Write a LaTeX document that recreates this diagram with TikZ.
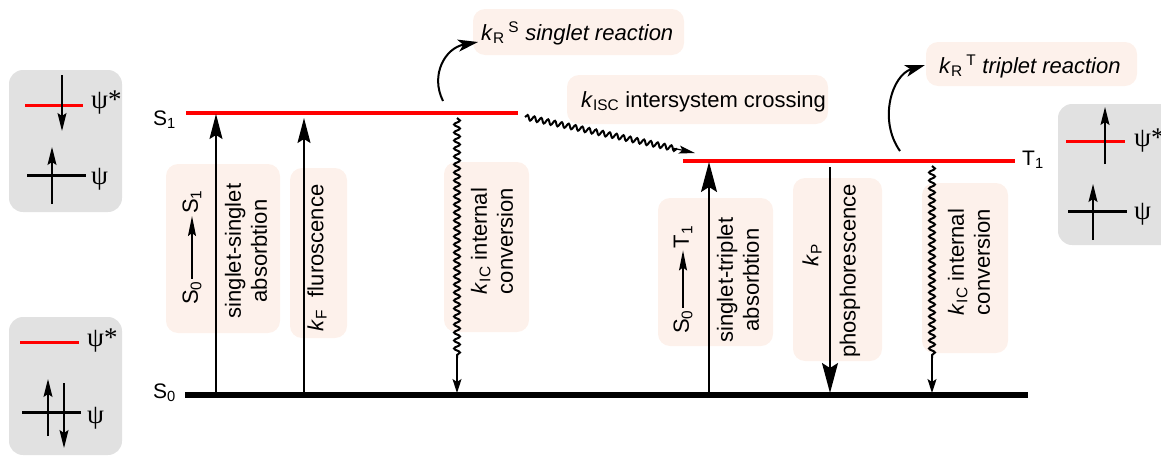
\documentclass[tikz,border=0pt]{standalone}
\usepackage{fontspec}
\setmainfont{Liberation Sans}
\newfontfamily\psifont{Liberation Serif}
\usetikzlibrary{arrows.meta,decorations.pathmorphing}
\definecolor{pinkc}{HTML}{FDF1EB}
\definecolor{grayc}{HTML}{E1E1E1}
\definecolor{redc}{HTML}{FF0000}
\begin{document}
\begin{tikzpicture}[x=1pt,y=-1pt,
  lbl/.style={font=\fontsize{22}{26}\selectfont, inner sep=0pt},
  levlbl/.style={font=\fontsize{21}{25}\selectfont, inner sep=0pt},
  rot/.style={lbl, rotate=90, align=center},
  psil/.style={font=\psifont\fontsize{27}{30}\selectfont, inner sep=0pt, anchor=west},
  pinkbox/.style={fill=pinkc, rounded corners=12pt},
  graybox/.style={fill=grayc, rounded corners=14pt},
  redlevel/.style={draw=redc, line width=4pt},
  blacklevel/.style={draw=black, line width=6pt},
  redorb/.style={draw=redc, line width=3pt},
  blackorb/.style={draw=black, line width=3pt},
  spin/.style={line width=1.3pt, -{Stealth[length=18pt,width=9pt,inset=3pt]}},
  thinarrow/.style={line width=1.4pt, -{Stealth[length=25pt,width=13pt,inset=4pt]}},
  bigarrow/.style={line width=1.5pt, -{Stealth[length=30pt,width=16pt,inset=5pt]}},
  smallarrow/.style={line width=1.2pt, -{Stealth[length=20pt,width=8pt,inset=3pt]}},
  wavy/.style={line width=2pt, decorate, decoration={snake, amplitude=3pt, segment length=8pt}},
  wavytip/.style={line width=1.2pt, -{Stealth[length=14pt,width=9pt,inset=3pt]}},
  curvearrow/.style={line width=2pt, -{Stealth[length=20pt,width=12pt,inset=5pt]}},
]
\useasboundingbox (0,0) rectangle (1161,455);

% gray orbital boxes
\fill[graybox] (9,70) rectangle (122,212);
\fill[graybox] (9,317) rectangle (122,455);
\begin{scope}
\clip (0,0) rectangle (1161,455);
\fill[graybox] (1058,104) rectangle (1185,245);
\node[psil] (psiSr) at (1134,141) {ψ*};
\end{scope}

% pink label boxes
\fill[pinkbox] (166,164) rectangle (280,333);
\fill[pinkbox] (290,168) rectangle (347,338);
\fill[pinkbox] (444,162) rectangle (529,332);
\fill[pinkbox] (473,9) rectangle (684,55);
\fill[pinkbox] (567,75) rectangle (828,124);
\fill[pinkbox] (926,42) rectangle (1137,86);
\fill[pinkbox] (658,198) rectangle (773,346);
\fill[pinkbox] (793,178) rectangle (882,361);
\fill[pinkbox] (922,183) rectangle (1008,353);

% energy levels
\coordinate (S1a) at (186,113); \coordinate (S1b) at (518,113);
\coordinate (S0a) at (185,395); \coordinate (S0b) at (1028,395);
\coordinate (T1a) at (683,161); \coordinate (T1b) at (1015,161);
\draw[redlevel] (S1a) -- (S1b);
\draw[redlevel] (T1a) -- (T1b);
\draw[blacklevel] (S0a) -- (S0b);
\node[levlbl, anchor=base west] (s1lab) at (153,125) {S\textsubscript{1}};
\node[levlbl, anchor=base west] (s0lab) at (153,398) {S\textsubscript{0}};
\node[levlbl, anchor=base west] (t1lab) at (1022,165) {T\textsubscript{1}};

% orbital diagrams, left top (S1)
\coordinate (o1a) at (25,105); \coordinate (o1b) at (83,105);
\coordinate (o2a) at (27,175); \coordinate (o2b) at (86,175);
\draw[redorb] (o1a) -- (o1b);
\draw[blackorb] (o2a) -- (o2b);
\coordinate (sp1s) at (62,75); \coordinate (sp1e) at (62,131);
\coordinate (sp2s) at (52,204); \coordinate (sp2e) at (52,147);
\draw[spin] (sp1s) -- (sp1e);
\draw[spin] (sp2s) -- (sp2e);
\node[psil] (psiS1) at (91,103) {ψ*};
\node[psil] (psS1) at (91,179) {ψ};

% orbital diagrams, left bottom (S0)
\coordinate (o3a) at (20,342); \coordinate (o3b) at (79,342);
\coordinate (o4a) at (22,412); \coordinate (o4b) at (81,412);
\draw[redorb] (o3a) -- (o3b);
\draw[blackorb] (o4a) -- (o4b);
\coordinate (sp3s) at (48,436); \coordinate (sp3e) at (48,379);
\coordinate (sp4s) at (64,383); \coordinate (sp4e) at (64,448);
\draw[spin] (sp3s) -- (sp3e);
\draw[spin] (sp4s) -- (sp4e);
\node[psil] (psiS0) at (87,341) {ψ*};
\node[psil] (psS0) at (87,418) {ψ};

% orbital diagrams, right (T1)
\coordinate (o5a) at (1066,141); \coordinate (o5b) at (1125,141);
\coordinate (o6a) at (1068,211); \coordinate (o6b) at (1127,211);
\draw[redorb] (o5a) -- (o5b);
\draw[blackorb] (o6a) -- (o6b);
\coordinate (sp5s) at (1105,164); \coordinate (sp5e) at (1105,107);
\coordinate (sp6s) at (1093,240); \coordinate (sp6e) at (1093,184);
\draw[spin] (sp5s) -- (sp5e);
\draw[spin] (sp6s) -- (sp6e);
\node[psil] (psT1) at (1134,214) {ψ};

% vertical transitions
\coordinate (ssb) at (216,392); \coordinate (sst) at (216,114);
\draw[thinarrow] (ssb) -- (sst);
\coordinate (flb) at (304,392); \coordinate (flt) at (304,118);
\draw[thinarrow] (flb) -- (flt);
\coordinate (ic1t) at (457,118); \coordinate (ic1m) at (457,358); \coordinate (ic1b) at (457,393);
\draw[wavy] (ic1t) -- (ic1m);
\draw[wavytip] (ic1m) -- (ic1b);
\coordinate (stb) at (709,392); \coordinate (stt) at (709,162);
\draw[bigarrow] (stb) -- (stt);
\coordinate (phs) at (830,167); \coordinate (phe) at (830,393);
\draw[bigarrow] (phs) -- (phe);
\coordinate (ic2t) at (932,166); \coordinate (ic2m) at (932,358); \coordinate (ic2b) at (932,393);
\draw[wavy] (ic2t) -- (ic2m);
\draw[wavytip] (ic2m) -- (ic2b);

% intersystem crossing
\coordinate (iscs) at (525,117); \coordinate (iscm) at (677,149);
\coordinate (iscn) at (674,148.4); \coordinate (isce) at (695,153);
\draw[wavy, decoration={snake, amplitude=2.5pt, segment length=7pt}] (iscs) -- (iscm);
\draw[line width=1.2pt, -{Stealth[length=16pt,width=8pt,inset=3pt]}] (iscn) -- (isce);

% reactions
\coordinate (srs) at (443,101); \coordinate (sre) at (478,42);
\draw[curvearrow] (srs) .. controls (430,75) and (445,48) .. (sre);
\coordinate (trs) at (900,151); \coordinate (tre) at (925,65);
\draw[curvearrow] (trs) .. controls (878,120) and (892,75) .. (tre);

% labels
\node[lbl, anchor=base west] (lsr) at (481,40) {\textit{k}\textsubscript{R}\,\textsuperscript{S} \textit{singlet reaction}};
\node[lbl, anchor=base west] (lisc) at (581,107) {\textit{k}\textsubscript{ISC} intersystem crossing};
\node[lbl, anchor=base west] (ltr) at (939,73) {\textit{k}\textsubscript{R}\,\textsuperscript{T} \textit{triplet reaction}};

\node[rot, inner sep=2pt] (a0) at (192,293) {S\textsubscript{0}};
\node[rot, inner sep=2pt] (a1) at (192,202) {S\textsubscript{1}};
\draw[smallarrow] (a0) -- (a1);
\node[rot] (lss) at (246,251) {singlet-singlet\\absorbtion};
\node[rot] (lfl) at (317,258) {\textit{k}\textsubscript{F}~~fluroscence};
\node[rot] (lic1) at (492,241) {\textit{k}\textsubscript{IC} internal\\conversion};

\node[rot, inner sep=2pt] (b0) at (683,322) {S\textsubscript{0}};
\node[rot, inner sep=2pt] (b1) at (683,237) {T\textsubscript{1}};
\draw[smallarrow] (b0) -- (b1);
\node[rot] (lst) at (738,280) {singlet-triplet\\absorbtion};
\node[rot] (lkp) at (812,255) {\textit{k}\textsubscript{P}};
\node[rot] (lph) at (850,271) {phosphorescence};
\node[rot] (lic2) at (969,262) {\textit{k}\textsubscript{IC} internal\\conversion};
\end{tikzpicture}
\end{document}
